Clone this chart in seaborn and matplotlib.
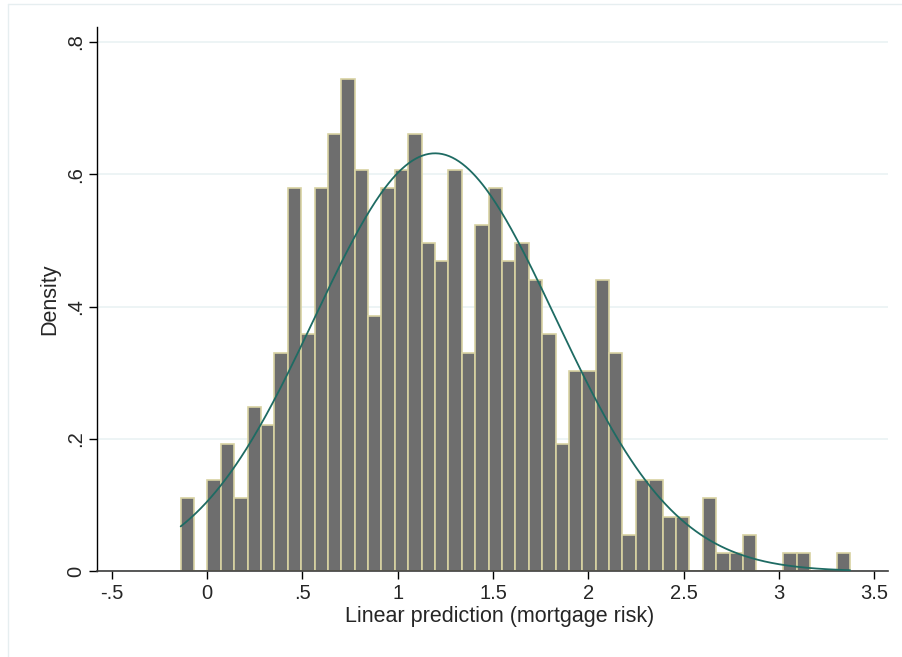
import numpy as np
import pandas as pd
import matplotlib
matplotlib.use("Agg")
import matplotlib.pyplot as plt
import seaborn as sns

# histogram: 50 bins, counts
bin_start = -0.138
bin_width = 0.0702
counts = [4, 0, 5, 7, 4, 9, 8, 12, 21, 13,
          21, 24, 27, 22, 14, 21, 22, 24, 18, 17,
          22, 12, 19, 21, 17, 18, 16, 13, 7, 11,
          11, 16, 12, 2, 5, 5, 3, 3, 0, 4,
          1, 1, 2, 0, 0, 1, 1, 0, 0, 1]

# normal overlay
curve_mean = 1.196
curve_sd = 0.6316

xticks = [-0.5, 0, 0.5, 1, 1.5, 2, 2.5, 3, 3.5]
xtick_labels = ["-.5", "0", ".5", "1", "1.5", "2", "2.5", "3", "3.5"]
yticks = [0, 0.2, 0.4, 0.6, 0.8]
ytick_labels = ["0", ".2", ".4", ".6", ".8"]

edges = bin_start + bin_width * np.arange(len(counts) + 1)
centers = (edges[:-1] + edges[1:]) / 2
df = pd.DataFrame({"risk": centers, "n": counts})

xs = np.linspace(edges[0], edges[-1], 400)
curve = pd.DataFrame({
    "risk": xs,
    "dens": np.exp(-0.5 * ((xs - curve_mean) / curve_sd) ** 2) / (curve_sd * np.sqrt(2 * np.pi)),
})

sns.set_style("white")
plt.rcParams["font.family"] = ["Liberation Sans", "DejaVu Sans"]

fig = plt.figure(figsize=(9.03, 6.57), dpi=100)
ax = fig.add_axes([0.1078, 0.1304, 0.8756, 0.828])

sns.histplot(data=df, x="risk", weights="n", bins=len(counts),
             binrange=(edges[0], edges[-1]), stat="density",
             color="#6e6e6e", edgecolor="#d8d2a2", linewidth=1.2, alpha=1,
             ax=ax, zorder=2)
sns.lineplot(data=curve, x="risk", y="dens", color="#1e6b63", linewidth=1.3,
             ax=ax, zorder=3)

ax.set_xlim(-0.575, 3.571)
ax.set_ylim(0, 0.822)
ax.set_xticks(xticks)
ax.set_xticklabels(xtick_labels)
ax.set_yticks(yticks)
ax.set_yticklabels(ytick_labels, rotation=90, va="center")
ax.tick_params(axis="both", direction="out", length=6, width=1, labelsize=14.5,
               color="black", pad=3, left=True, bottom=True)

ax.grid(axis="y", color="#eaf2f3", linewidth=1.2)
ax.set_axisbelow(True)
sns.despine(ax=ax)
ax.spines["left"].set_color("black")
ax.spines["bottom"].set_color("#3c3c3c")
ax.spines["left"].set_linewidth(1.0)
ax.spines["bottom"].set_linewidth(1.2)

ax.set_xlabel("Linear prediction (mortgage risk)", fontsize=15.5, labelpad=2)
ax.xaxis.label.set_x(0.509)
ax.set_ylabel("Density", fontsize=15.5, labelpad=4)

# faint outer frame (top and left visible)
fig.add_artist(plt.Line2D([8 / 903, 8 / 903], [0, 1 - 4 / 657],
                          transform=fig.transFigure, color="#e6eef0", linewidth=1))
fig.add_artist(plt.Line2D([8 / 903, 1], [1 - 4 / 657, 1 - 4 / 657],
                          transform=fig.transFigure, color="#e6eef0", linewidth=1))

fig.savefig("out.png", dpi=100)
